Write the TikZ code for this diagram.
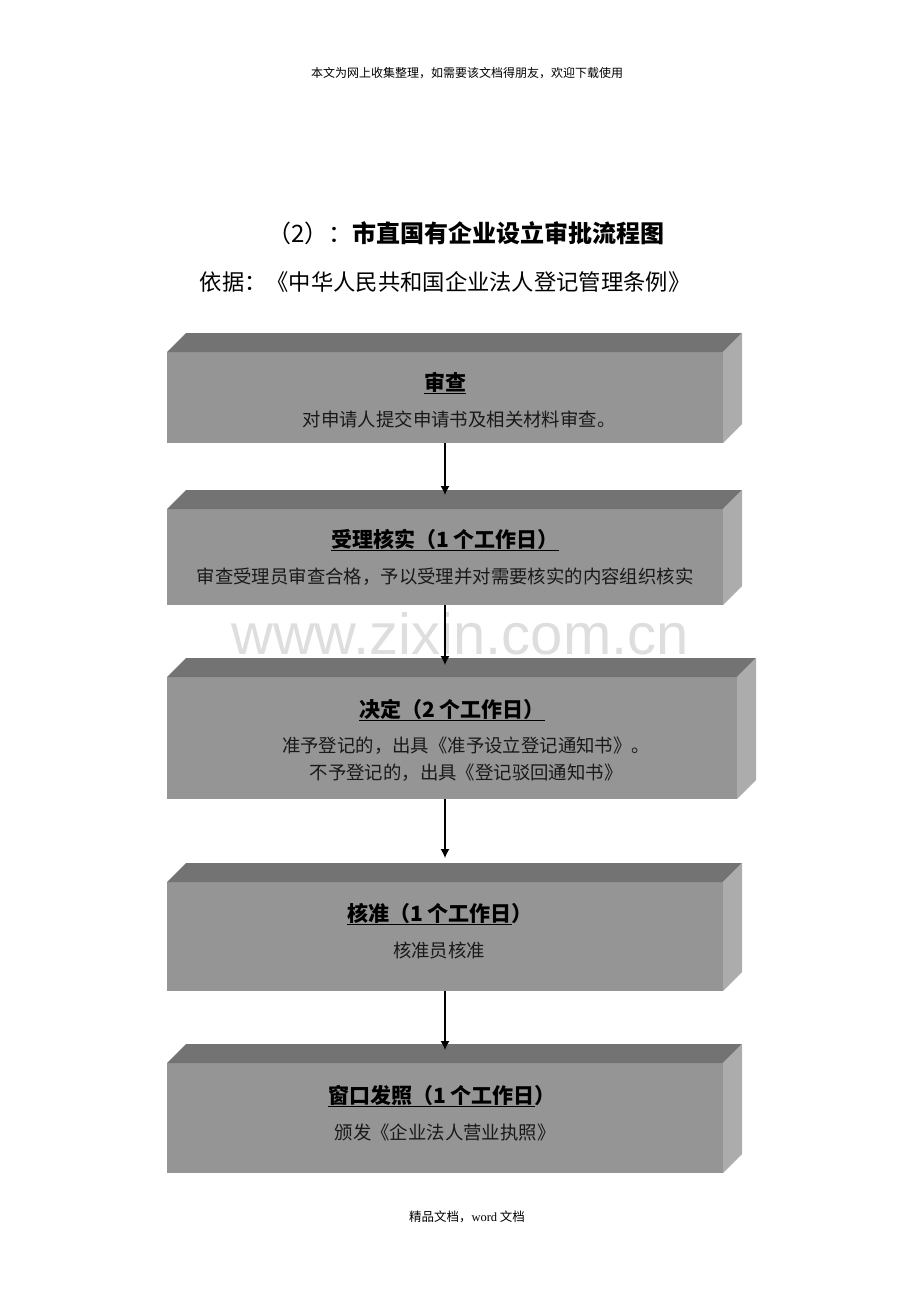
\documentclass[tikz,border=0pt]{standalone}
\usepackage{fontspec}
\setmainfont{Liberation Serif}
\newfontfamily\cjk{Noto Sans CJK SC}
\newfontfamily\wmfont{Liberation Sans}
\usetikzlibrary{arrows.meta,calc}
\definecolor{facefront}{HTML}{959595}
\definecolor{facetop}{HTML}{737373}
\definecolor{faceside}{HTML}{ACACAC}
\tikzset{
  front/.style={fill=facefront, inner sep=0pt, outer sep=0pt},
  heading/.style={font=\cjk\bfseries\fontsize{21}{25}\selectfont, text=black},
  body/.style={font=\cjk\fontsize{18.4}{27}\selectfont, text=black!90, align=center},
  flow/.style={-{Latex[length=9pt,width=9pt]}, line width=1.2pt},
}
% top and right faces of a box
\newcommand{\slab}[1]{%
  \fill[facetop] (#1.north west) -- ++(19,-19) -- ($(#1.north east)+(19,-19)$) -- (#1.north east) -- cycle;
  \fill[faceside] (#1.north east) -- ++(19,-19) -- ($(#1.south east)+(19,-19)$) -- (#1.south east) -- cycle;
}
\begin{document}
\begin{tikzpicture}[x=1pt,y=-1pt]
\useasboundingbox (0,0) rectangle (920,1302);

% page texts
\node[font=\cjk\fontsize{12}{14}\selectfont] (header) at (467,73) {本文为网上收集整理，如需要该文档得朋友，欢迎下载使用};
\node[font=\cjk\fontsize{24}{28}\selectfont] (title) at (466,233) {（2）：{\bfseries 市直国有企业设立审批流程图}};
\node[font=\cjk\fontsize{22.3}{26}\selectfont] (basis) at (445,282) {依据：《中华人民共和国企业法人登记管理条例》};
\node[font=\wmfont\fontsize{58}{62}\selectfont, text=black!13] (wm) at (460,634) {www.zixin.com.cn};

% boxes
\node[front, minimum width=556, minimum height=91] (shencha) at (445,397.5) {};
\node[front, minimum width=556, minimum height=96] (shouli) at (445,557) {};
\node[front, minimum width=570, minimum height=122] (jueding) at (452,738) {};
\node[front, minimum width=556, minimum height=109] (hezhun) at (445,936.5) {};
\node[front, minimum width=556, minimum height=110] (fazhao) at (445,1118) {};
\slab{shencha}
\slab{shouli}
\slab{jueding}
\slab{hezhun}
\slab{fazhao}

% box texts
\node[heading] (shencha-t) at (445,383) {\underline{审查}};
\node[body] (shencha-b) at (459,419) {对申请人提交申请书及相关材料审查。};
\node[heading] (shouli-t) at (445,540) {\underline{受理核实（1 个工作日）}};
\node[body] (shouli-b) at (445,577) {审查受理员审查合格，予以受理并对需要核实的内容组织核实};
\node[heading] (jueding-t) at (452,710) {\underline{决定（2 个工作日）}};
\node[body] (jueding-b) at (466,759.5) {准予登记的，出具《准予设立登记通知书》。\\不予登记的，出具《登记驳回通知书》};
\node[heading] (hezhun-t) at (440,914) {\underline{核准（1 个工作日}）};
\node[body] (hezhun-b) at (439,950) {核准员核准};
\node[heading] (fazhao-t) at (442,1096) {\underline{窗口发照（1 个工作日}）};
\node[body] (fazhao-b) at (445,1132) {颁发《企业法人营业执照》};

% arrows
\coordinate (shouli-in) at ($(shouli.north)+(0,-14)$);
\coordinate (jueding-in) at ($(jueding.north)+(-7,-12)$);
\coordinate (hezhun-in) at ($(hezhun.north)+(0,-24)$);
\coordinate (fazhao-in) at ($(fazhao.north)+(0,-13)$);
\draw[flow] (shencha.south) -- (shouli-in);
\draw[flow] (shouli.south) -- (jueding-in);
\draw[flow] (jueding.south -| shouli.south) -- (hezhun-in);
\draw[flow] (hezhun.south) -- (fazhao-in);

\node[font=\cjk\fontsize{12.5}{14}\selectfont] (footer) at (467,1217) {精品文档，{\rmfamily word} 文档};
\end{tikzpicture}
\end{document}
